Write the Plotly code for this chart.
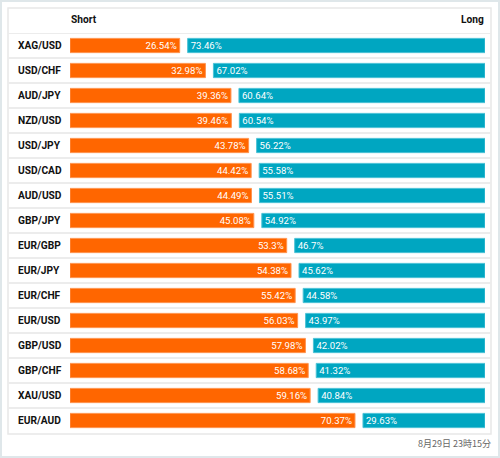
import plotly.graph_objects as go

pairs = ["XAG/USD", "USD/CHF", "AUD/JPY", "NZD/USD", "USD/JPY", "USD/CAD", "AUD/USD", "GBP/JPY",
         "EUR/GBP", "EUR/JPY", "EUR/CHF", "EUR/USD", "GBP/USD", "GBP/CHF", "XAU/USD", "EUR/AUD"]
short_pct = [26.54, 32.98, 39.36, 39.46, 43.78, 44.42, 44.49, 45.08,
             53.3, 54.38, 55.42, 56.03, 57.98, 58.68, 59.16, 70.37]
long_pct = [73.46, 67.02, 60.64, 60.54, 56.22, 55.58, 55.51, 54.92,
            46.7, 45.62, 44.58, 43.97, 42.02, 41.32, 40.84, 29.63]
header_short = "Short"
header_long = "Long"
timestamp = "8月29日 23時15分"

W, H = 500, 458
PAD = 0.875   # extra bar length (units)
GAP = 2.0     # gap between bars (units)
TOTAL = 100 + 2 * PAD + GAP

ORANGE = "#ff6600"
TEAL = "#00a6c1"
FONT = "Roboto"

def px_x(p):
    return p / W

def px_y(p):
    return 1 - p / H

fig = go.Figure()
fig.add_trace(go.Bar(
    y=pairs, x=[s + PAD for s in short_pct], base=[0] * len(pairs), orientation="h",
    marker=dict(color=ORANGE, line=dict(color="#ff9450", width=1)),
    text=[f"{v:g}%" for v in short_pct], textposition="inside", insidetextanchor="end",
    textfont=dict(color="white", size=9.6, family=FONT), width=0.57,
    hoverinfo="skip", constraintext="none", cliponaxis=False,
))
fig.add_trace(go.Bar(
    y=pairs, x=[l + PAD for l in long_pct], base=[s + PAD + GAP for s in short_pct], orientation="h",
    marker=dict(color=TEAL, line=dict(color="#4cc2d6", width=1)),
    text=[f"{v:g}%" for v in long_pct], textposition="inside", insidetextanchor="start",
    textfont=dict(color="white", size=9.6, family=FONT), width=0.57,
    hoverinfo="skip", constraintext="none", cliponaxis=False,
))

shapes = []
# outer frame
shapes.append(dict(type="rect", xref="paper", yref="paper", x0=px_x(1), x1=px_x(W - 1),
                   y0=px_y(H - 1), y1=px_y(1), line=dict(color="#dfe7ea", width=2), layer="below"))
# table border
shapes.append(dict(type="rect", xref="paper", yref="paper", x0=px_x(8), x1=px_x(491),
                   y0=px_y(434), y1=px_y(8), line=dict(color="#e8e8e8", width=1.5), layer="below"))
# row separators
for i in range(len(pairs)):
    shapes.append(dict(type="line", xref="paper", yref="y", x0=px_x(8), x1=px_x(491),
                       y0=i - 0.5, y1=i - 0.5, line=dict(color="#ececec", width=2), layer="below"))

annotations = []
for p in pairs:
    annotations.append(dict(text=f"<b>{p}</b>", xref="paper", yref="y", x=px_x(16), y=p,
                            xanchor="left", yanchor="middle", showarrow=False,
                            font=dict(size=10.2, color="#111", family=FONT)))
annotations.append(dict(text=f"<b>{header_short}</b>", xref="paper", yref="paper", x=px_x(69), y=px_y(20),
                        xanchor="left", yanchor="middle", showarrow=False,
                        font=dict(size=10.2, color="#111", family=FONT)))
annotations.append(dict(text=f"<b>{header_long}</b>", xref="paper", yref="paper", x=px_x(486), y=px_y(20),
                        xanchor="right", yanchor="middle", showarrow=False,
                        font=dict(size=10.2, color="#111", family=FONT)))
annotations.append(dict(text=timestamp, xref="paper", yref="paper", x=px_x(493), y=px_y(443),
                        xanchor="right", yanchor="middle", showarrow=False,
                        font=dict(size=9, color="#666", family="Noto Sans CJK JP")))

fig.update_layout(
    width=W, height=H, margin=dict(l=0, r=0, t=0, b=0),
    paper_bgcolor="white", plot_bgcolor="white",
    barmode="overlay", showlegend=False,
    xaxis=dict(range=[0, TOTAL], domain=[px_x(70), px_x(485)], visible=False, fixedrange=True),
    yaxis=dict(categoryorder="array", categoryarray=pairs, autorange=False,
               range=[len(pairs) - 0.5, -0.5], domain=[px_y(433), px_y(33)], visible=False, fixedrange=True),
    shapes=shapes, annotations=annotations,
    uniformtext=dict(minsize=9, mode="show"),
)
fig.write_html("out.html", config={"displayModeBar": False},
               post_script="document.body.style.margin='0';document.body.style.overflow='hidden';")
